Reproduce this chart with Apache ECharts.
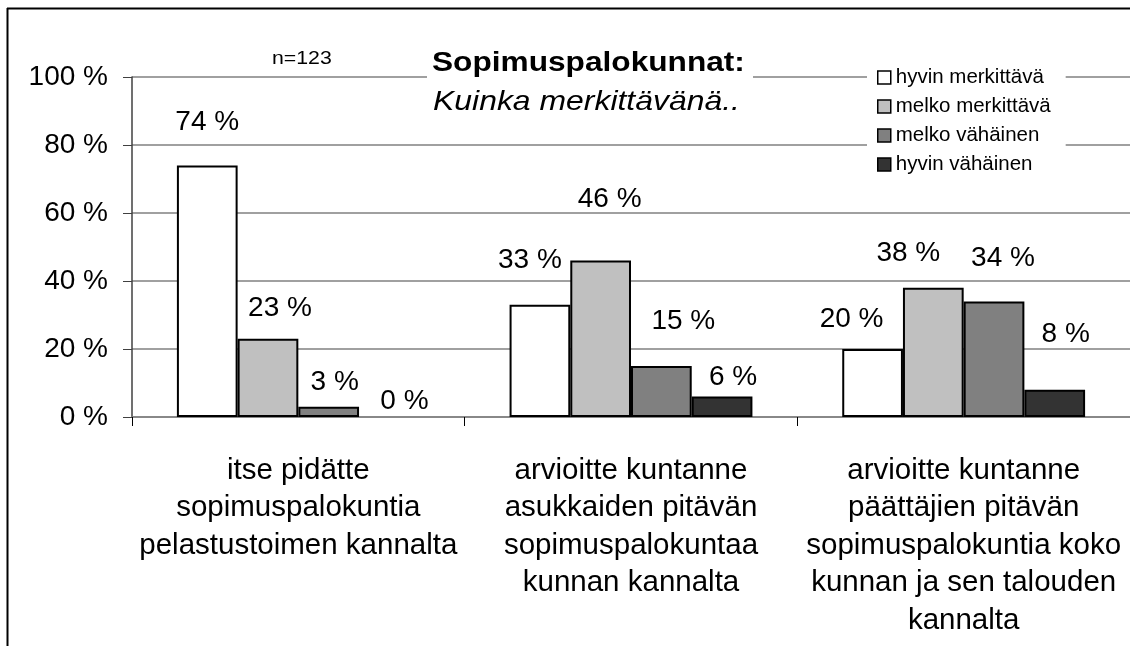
<!DOCTYPE html>
<html>
<head>
<meta charset="utf-8">
<script src="https://cdn.jsdelivr.net/npm/echarts@6/dist/echarts.min.js"></script>
<style>
  html, body { margin: 0; padding: 0; background: #fff; }
  #chart { width: 1130px; height: 646px; }
</style>
</head>
<body>
<div id="chart"></div>
<script>
// kategoriat (x-akseli)
var categories = [
  'itse pidätte\nsopimuspalokuntia\npelastustoimen kannalta',
  'arvioitte kuntanne\nasukkaiden pitävän\nsopimuspalokuntaa\nkunnan kannalta',
  'arvioitte kuntanne\npäättäjien pitävän\nsopimuspalokuntia koko\nkunnan ja sen talouden\nkannalta'
]
var seriesNames = ['hyvin merkittävä', 'melko merkittävä', 'melko vähäinen', 'hyvin vähäinen']
var hyvinMerkittava = [74, 33, 20]
var melkoMerkittava = [23, 46, 38]
var melkoVahainen = [3, 15, 34]
var hyvinVahainen = [0, 6, 8]
var yTicks = [0, 20, 40, 60, 80, 100]

// värit ja arvotekstien siirrot (excelissä käsin sijoitettu)
var colors = ['#ffffff', '#c0c0c0', '#808080', '#333333']
var labelShift = [
  [[0, -29], [-10, -31], [-21, -16]],
  [[12, -17], [9, -47], [-25, -21]],
  [[6, -11], [22, -31], [9, -29]],
  [[15, -2], [11, -5], [11, -42]]
]

var font = "'Liberation Sans', Arial, sans-serif"

function makeSeries(idx, values) {
  return {
    name: seriesNames[idx],
    type: 'bar',
    barGap: '0%',
    barCategoryGap: '27%',
    itemStyle: { color: colors[idx], borderColor: '#000', borderWidth: 2 },
    label: {
      show: true,
      position: 'top',
      distance: 0,
      formatter: '{c} %',
      fontFamily: font,
      fontSize: 28,
      color: '#000'
    },
    data: values.map(function (v, i) {
      var item = { value: v, label: { offset: labelShift[idx][i] } }
      if (v === 0) item.itemStyle = { borderWidth: 0 }
      return item
    })
  }
}

var chart = echarts.init(document.getElementById('chart'))
var option = {
  backgroundColor: '#fff',
  animation: false,
  grid: { left: 132, top: 77, width: 1004, height: 340 },
  legend: {
    orient: 'vertical',
    left: 867,
    top: 60,
    padding: [7, 15, 5, 10],
    backgroundColor: '#fff',
    itemWidth: 13,
    itemHeight: 13,
    itemGap: 8,
    icon: 'rect',
    itemStyle: { borderColor: '#000', borderWidth: 1.5 },
    textStyle: { fontFamily: font, fontSize: 20.5, color: '#000', padding: [2, 0, 0, 0] },
    data: seriesNames,
    z: 10
  },
  xAxis: {
    type: 'category',
    data: categories,
    axisLine: { lineStyle: { color: '#808080', width: 1.5 } },
    axisTick: { show: true, length: 9, lineStyle: { color: '#000', width: 1 } },
    axisLabel: {
      margin: 35,
      fontFamily: font,
      fontSize: 29.5,
      lineHeight: 37.5,
      color: '#000',
      interval: 0
    }
  },
  yAxis: {
    type: 'value',
    min: yTicks[0],
    max: yTicks[yTicks.length - 1],
    interval: yTicks[1] - yTicks[0],
    axisLine: { show: true, lineStyle: { color: '#404040', width: 1.5 } },
    axisTick: { show: true, length: 9, lineStyle: { color: '#404040' } },
    splitLine: { lineStyle: { color: '#808080', width: 1.5 } },
    axisLabel: {
      margin: 24,
      formatter: '{value} %',
      fontFamily: font,
      fontSize: 28,
      color: '#000'
    }
  },
  graphic: [
    { type: 'line', z: 100, shape: { x1: 7, y1: 8.5, x2: 1130, y2: 8.5 }, style: { stroke: '#000', lineWidth: 2 } },
    { type: 'line', z: 100, shape: { x1: 7.5, y1: 8, x2: 7.5, y2: 646 }, style: { stroke: '#000', lineWidth: 2 } },
    { type: 'rect', z: 50, shape: { x: 427, y: 70, width: 326, height: 14 }, style: { fill: '#fff' } },
    {
      type: 'text', z: 100, x: 432, y: 63, scaleX: 1.13,
      style: { text: 'Sopimuspalokunnat:', font: 'bold 28px ' + font, fill: '#000', verticalAlign: 'middle' }
    },
    {
      type: 'text', z: 100, x: 433, y: 102, scaleX: 1.14,
      style: { text: 'Kuinka merkittävänä..', font: 'italic 28px ' + font, fill: '#000', verticalAlign: 'middle' }
    },
    {
      type: 'text', z: 100, x: 272, y: 59, scaleX: 1.12,
      style: { text: 'n=123', font: '19px ' + font, fill: '#000', verticalAlign: 'middle' }
    }
  ],
  series: [
    makeSeries(0, hyvinMerkittava),
    makeSeries(1, melkoMerkittava),
    makeSeries(2, melkoVahainen),
    makeSeries(3, hyvinVahainen)
  ]
}
chart.setOption(option)
</script>
</body>
</html>
